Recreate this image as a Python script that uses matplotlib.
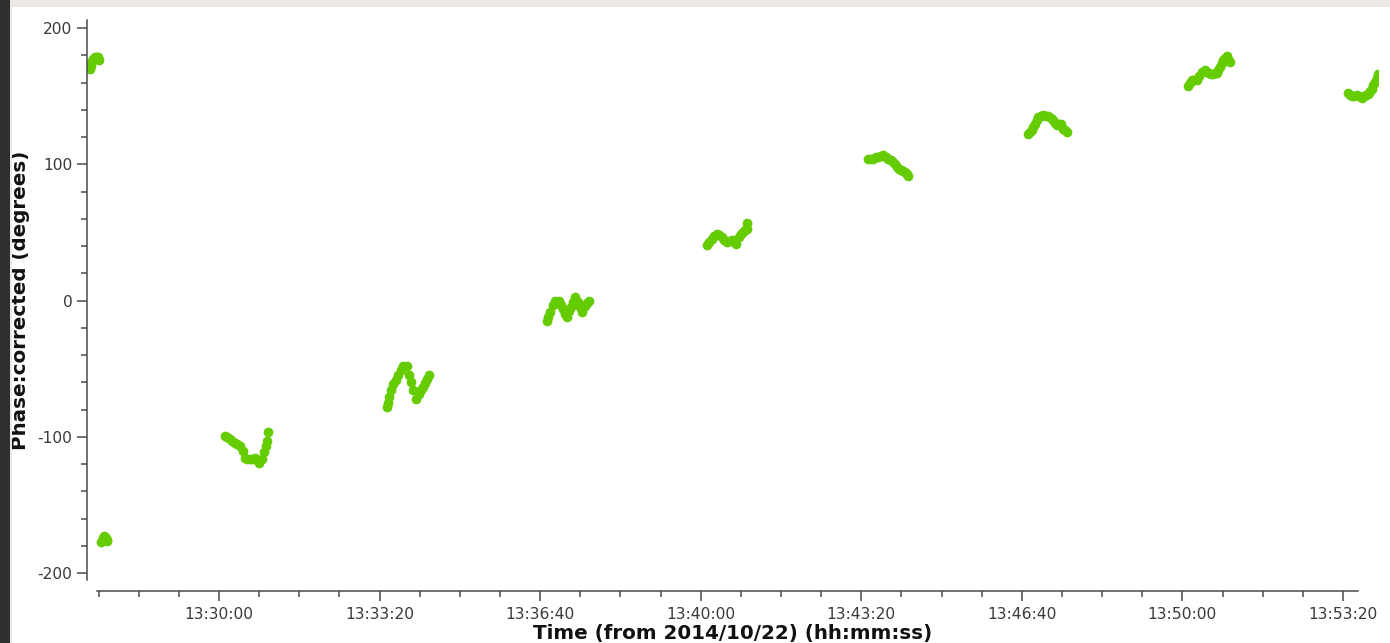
import matplotlib
matplotlib.use("Agg")
import matplotlib.pyplot as plt
from matplotlib.patches import Rectangle
from matplotlib.ticker import MultipleLocator, FuncFormatter

plt.rcParams["axes.unicode_minus"] = False

# Seconds after the 13:30:00 reference epoch (2014/10/22) and corrected phase in degrees
REF_SECONDS = 13 * 3600 + 30 * 60

scan0_t = [-160.1, -159.5, -158.9, -157.6, -156.4, -155.2, -153.9, -152.0, -150.2, -148.9,
           -147.0, -146.0, -145.0, -144.0, -143.0, -142.0, -141.0, -140.0, -139.0]
scan0_p = [170.0, 172.0, 174.0, 176.0, 177.5, 178.0, 178.5, 178.5, 178.5, 176.5,
           -177.5, -176.5, -176.0, -174.5, -173.0, -173.5, -174.5, -175.5, -176.5]

scan1_t = [7.5, 10.5, 13.7, 16.8, 19.9, 23.0, 26.2, 29.5, 32.4, 35.5, 38.6, 41.7, 44.8,
           47.5, 50.2, 53.2, 56.0, 58.2, 60.2, 61.4]
scan1_p = [-99.3, -100.2, -101.7, -103.0, -104.2, -105.0, -106.6, -110.3, -115.2, -116.0,
           -116.4, -116.0, -115.2, -117.0, -118.9, -116.4, -111.5, -106.6, -102.9, -96.8]

scan2_t = [208.9, 210.5, 212.1, 214.5, 217.1, 220.0, 223.3, 226.5, 229.6, 233.8, 237.0,
           239.5, 242.0, 245.4, 249.5, 252.0, 254.5, 256.5, 258.7, 261.9]
scan2_p = [-78.0, -75.0, -71.0, -66.0, -61.0, -58.0, -55.0, -51.0, -47.8, -47.8, -55.0,
           -60.0, -66.0, -72.3, -68.6, -66.0, -63.7, -60.5, -57.6, -55.0]

scan3_t = [408.2, 410.2, 412.3, 415.5, 418.5, 423.9, 426.5, 428.8, 431.0, 433.1, 435.5,
           438.1, 440.8, 443.4, 447.5, 449.5, 451.8, 455.9, 458.5, 461.2]
scan3_p = [-14.7, -12.0, -8.6, -3.5, 0.0, 0.0, -3.0, -6.1, -10.0, -12.3, -8.0,
           -4.9, -1.0, 2.5, -1.2, -5.0, -8.6, -3.7, -1.5, 0.0]

scan4_t = [607.4, 610.5, 613.7, 616.8, 619.9, 623.0, 626.1, 629.2, 632.4, 635.5, 638.6,
           641.3, 644.0, 648.1, 650.2, 652.3, 654.8, 657.3, 658.1]
scan4_p = [40.4, 43.0, 45.3, 47.5, 49.0, 48.0, 46.6, 44.5, 42.9, 43.5, 44.1,
           43.0, 41.7, 46.6, 48.5, 50.2, 51.5, 52.7, 56.8]

scan5_t = [808.7, 811.8, 815.0, 818.0, 821.2, 824.3, 827.4, 830.5, 833.7, 836.4, 839.1,
           841.6, 844.1, 846.6, 849.1, 851.8, 854.4, 856.5, 858.6]
scan5_p = [104.2, 104.2, 104.2, 105.0, 105.4, 106.0, 106.6, 105.5, 104.2, 103.0, 101.7,
           100.0, 98.0, 96.8, 95.6, 95.0, 94.4, 92.8, 91.2]

scan6_t = [1008.0, 1010.1, 1012.2, 1014.3, 1016.4, 1018.5, 1020.5, 1023.6, 1026.7, 1029.8,
           1033.0, 1035.7, 1038.4, 1040.9, 1043.4, 1045.9, 1048.4, 1051.6, 1054.1, 1056.6]
scan6_p = [122.5, 123.8, 125.0, 127.5, 129.9, 132.5, 134.8, 135.5, 136.0, 135.8,
           135.3, 134.0, 132.4, 130.5, 128.7, 129.3, 129.9, 126.2, 125.0, 123.8]

scan7_t = [1207.3, 1209.4, 1211.5, 1214.6, 1217.7, 1220.8, 1224.0, 1228.1, 1230.8, 1233.4,
           1235.9, 1238.4, 1242.7, 1244.8, 1246.8, 1248.9, 1250.9, 1253.0, 1255.1, 1257.2,
           1259.3]
scan7_p = [157.4, 159.5, 161.8, 161.8, 161.8, 165.0, 167.9, 169.1, 168.0, 166.7,
           166.5, 166.2, 166.7, 169.0, 171.6, 174.0, 176.5, 178.0, 179.5, 177.5,
           175.2]

scan8_t = [1406.6, 1408.8, 1410.9, 1414.0, 1417.0, 1420.2, 1423.3, 1426.0, 1428.6, 1430.7,
           1432.7, 1434.2, 1435.7, 1437.7, 1439.8, 1441.9, 1444.2]
scan8_p = [152.0, 151.0, 150.0, 150.3, 150.7, 149.8, 149.0, 150.0, 150.7, 151.3,
           152.0, 153.8, 155.6, 158.1, 160.5, 163.0, 166.0]

scans = [
    (scan0_t, scan0_p), (scan1_t, scan1_p), (scan2_t, scan2_p),
    (scan3_t, scan3_p), (scan4_t, scan4_p), (scan5_t, scan5_p),
    (scan6_t, scan6_p), (scan7_t, scan7_p), (scan8_t, scan8_p),
]

POINT_COLOR = "#64cc00"
AXIS_COLOR = "#4a4a4a"
TEXT_COLOR = "#3a3a3a"

fig = plt.figure(figsize=(13.9, 6.43), dpi=100)
fig.patch.set_facecolor("white")

# window frame around the plot canvas
fig.patches.append(Rectangle((0, 1 - 7 / 643), 1, 7 / 643, transform=fig.transFigure,
                             facecolor="#ece9e4", edgecolor="none", zorder=0))
fig.patches.append(Rectangle((10 / 1390, 0), 2 / 1390, 1, transform=fig.transFigure,
                             facecolor="#ece9e4", edgecolor="none", zorder=0))
fig.patches.append(Rectangle((0, 0), 10 / 1390, 1, transform=fig.transFigure,
                             facecolor="#2f2f2f", edgecolor="none", zorder=0))

ax = fig.add_axes([87 / 1390, 63 / 643, 1291 / 1390, 560 / 643])
ax.set_facecolor("none")

for t, p in scans:
    ax.plot([REF_SECONDS + v for v in t], p, linestyle="none", marker="o",
            markersize=7.0, markerfacecolor=POINT_COLOR, markeredgewidth=0,
            color=POINT_COLOR)

ax.set_xlim(REF_SECONDS - 164.4, REF_SECONDS + 1443.6)
ax.set_ylim(-205.1, 205.9)

for side in ("top", "right"):
    ax.spines[side].set_visible(False)
for side in ("left", "bottom"):
    ax.spines[side].set_color(AXIS_COLOR)
    ax.spines[side].set_linewidth(1.1)
ax.spines["bottom"].set_position(("outward", 7.9))
ax.spines["bottom"].set_bounds(REF_SECONDS - 152.5, REF_SECONDS + 1418.6)


def hms(x, pos=None):
    s = int(round(x))
    return f"{s // 3600:02d}:{(s % 3600) // 60:02d}:{s % 60:02d}"


ax.xaxis.set_major_locator(MultipleLocator(200))
ax.xaxis.set_minor_locator(MultipleLocator(50))
ax.xaxis.set_major_formatter(FuncFormatter(hms))
ax.yaxis.set_major_locator(MultipleLocator(100))
ax.yaxis.set_minor_locator(MultipleLocator(20))

ax.tick_params(axis="both", which="major", length=7.5, width=1.1, color=AXIS_COLOR,
               labelcolor=TEXT_COLOR, labelsize=11.2, direction="out")
ax.tick_params(axis="both", which="minor", length=4.2, width=1.1, color=AXIS_COLOR,
               direction="out")
ax.tick_params(axis="x", which="major", pad=4)
ax.tick_params(axis="y", which="major", pad=3)

ax.set_xlabel("Time (from 2014/10/22) (hh:mm:ss)", fontsize=14.3, fontweight="bold",
              color="#111111")
ax.set_ylabel("Phase:corrected (degrees)", fontsize=14.3, fontweight="bold",
              color="#111111")
ax.xaxis.set_label_coords(0.5, -44 / 560)
ax.yaxis.set_label_coords(-57 / 1291, 0.5)

fig.savefig("out.png", dpi=100, facecolor=fig.get_facecolor())
